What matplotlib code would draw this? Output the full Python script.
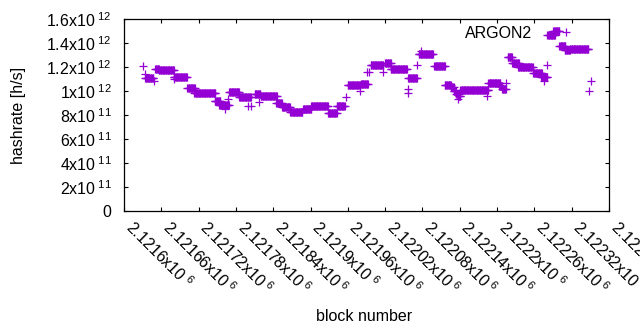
import numpy as np
import matplotlib
matplotlib.use("Agg")
import matplotlib.pyplot as plt
from matplotlib.ticker import FixedLocator, FixedFormatter

plt.rcParams['font.family'] = ['Liberation Sans', 'DejaVu Sans']
plt.rcParams['mathtext.fontset'] = 'custom'
plt.rcParams['mathtext.rm'] = 'Liberation Sans'
plt.rcParams['mathtext.it'] = 'Liberation Sans:italic'

BASE = 2121600
# runs of blocks with (nearly) constant hashrate: start offset, end offset, hashrate [1e12 h/s]
seg_start = [34, 50, 56, 80, 102, 113, 146, 153, 169, 185, 210, 220, 245, 254, 267, 288, 301, 328, 342,
             360, 381, 397, 420, 429, 457, 474, 499, 516, 526, 530, 534, 538, 541, 587, 603, 608,
             617, 624, 634, 658, 671, 681, 690, 700, 709, 717]
seg_end = [47, 56, 80, 101, 114, 147, 155, 169, 185, 204, 219, 246, 254, 267, 287, 301, 328, 342, 355,
           380, 392, 417, 429, 455, 471, 497, 516, 526, 530, 534, 538, 541, 586, 605, 608, 614,
           624, 635, 657, 672, 681, 693, 700, 710, 717, 747]
seg_value = [1.112, 1.185, 1.175, 1.12, 1.022, 0.98, 0.92, 0.883, 0.99, 0.95, 0.975, 0.958, 0.90, 0.87,
             0.823, 0.85, 0.875, 0.817, 0.875, 1.047, 1.06, 1.214, 1.23, 1.18, 1.105, 1.308, 1.208,
             1.054, 1.03, 1.0, 0.975, 0.96, 1.011, 1.065, 1.045, 1.015, 1.28, 1.236, 1.197, 1.153,
             1.12, 1.467, 1.5, 1.375, 1.34, 1.347]
# isolated outlier blocks
iso_block = [31, 33, 48, 81, 163, 167, 199, 204, 217, 357, 380, 390, 394, 417, 456, 457, 472, 478,
             537, 583, 586, 615, 676, 680, 748, 751]
iso_value = [1.208, 1.14, 1.085, 1.10, 0.85, 0.93, 0.875, 0.875, 0.91, 0.953, 1.0, 1.16, 1.16, 1.16,
             0.986, 1.014, 1.217, 1.333, 0.93, 0.958, 1.07, 1.064, 1.086, 1.217, 1.0, 1.086]

xticks = [2121600, 2121660, 2121720, 2121780, 2121840, 2121900, 2121960, 2122020, 2122080,
          2122140, 2122200, 2122260, 2122320, 2122380]
xlabels = ["2.1216", "2.12166", "2.12172", "2.12178", "2.12184", "2.1219", "2.12196", "2.12202",
           "2.12208", "2.12214", "2.1222", "2.12226", "2.12232", "2.12238"]
yticks = [0, 2e11, 4e11, 6e11, 8e11, 1e12, 1.2e12, 1.4e12, 1.6e12]
ymant = ["0", "2", "4", "6", "8", "1", "1.2", "1.4", "1.6"]
yexp = ["", "11", "11", "11", "11", "12", "12", "12", "12"]

bx, by = [], []
for s, e, v in zip(seg_start, seg_end, seg_value):
    for b in range(s, e + 1):
        bx.append(BASE + b)
        by.append(v * 1e12)
for b, v in zip(iso_block, iso_value):
    bx.append(BASE + b)
    by.append(v * 1e12)

FS = 11.5
fig = plt.figure(figsize=(6.4, 3.3), dpi=100)
ax = fig.add_axes([124/640, 1 - 211/330, (609-124)/640, (211-19)/330])
color = '#9400D3'
ax.plot(bx, by, linestyle='none', marker='+', markersize=5.2, markeredgewidth=0.9,
        color=color, label='ARGON2')

ax.set_xlim(2121600, 2122380)
ax.set_ylim(0, 1.6e12)

ax.xaxis.set_major_locator(FixedLocator(xticks))
ax.xaxis.set_major_formatter(FixedFormatter([l + "x10$^{\\ 6}$" for l in xlabels]))
ax.yaxis.set_major_locator(FixedLocator(yticks))
ax.yaxis.set_major_formatter(FixedFormatter(
    [m if e == "" else m + "x10$^{\\ " + e + "}$" for m, e in zip(ymant, yexp)]))

ax.tick_params(direction='in', length=3.2, width=0.8, top=True, right=True, labelsize=FS)
ax.tick_params(axis='y', pad=9)
for lab in ax.get_xticklabels():
    lab.set_rotation(-45)
    lab.set_ha('left')
    lab.set_va('baseline')
    lab.set_rotation_mode('anchor')
ax.tick_params(axis='x', pad=13)
for sp in ax.spines.values():
    sp.set_linewidth(0.9)

ax.set_ylabel('hashrate [h/s]', fontsize=FS)
ax.set_xlabel('block number', fontsize=FS)
ax.yaxis.set_label_coords(-(124 - 26) / 485, (211 - 115) / 192)
ax.xaxis.set_label_coords((364 - 124) / 485, -(309 - 211) / 192)

ax.legend(loc='upper right', bbox_to_anchor=((582 - 124) / 485, 0.965), markerfirst=False,
          frameon=False, borderpad=0, borderaxespad=0, handlelength=2.0, handletextpad=1.1,
          fontsize=FS)

fig.savefig('out.png', dpi=100)
